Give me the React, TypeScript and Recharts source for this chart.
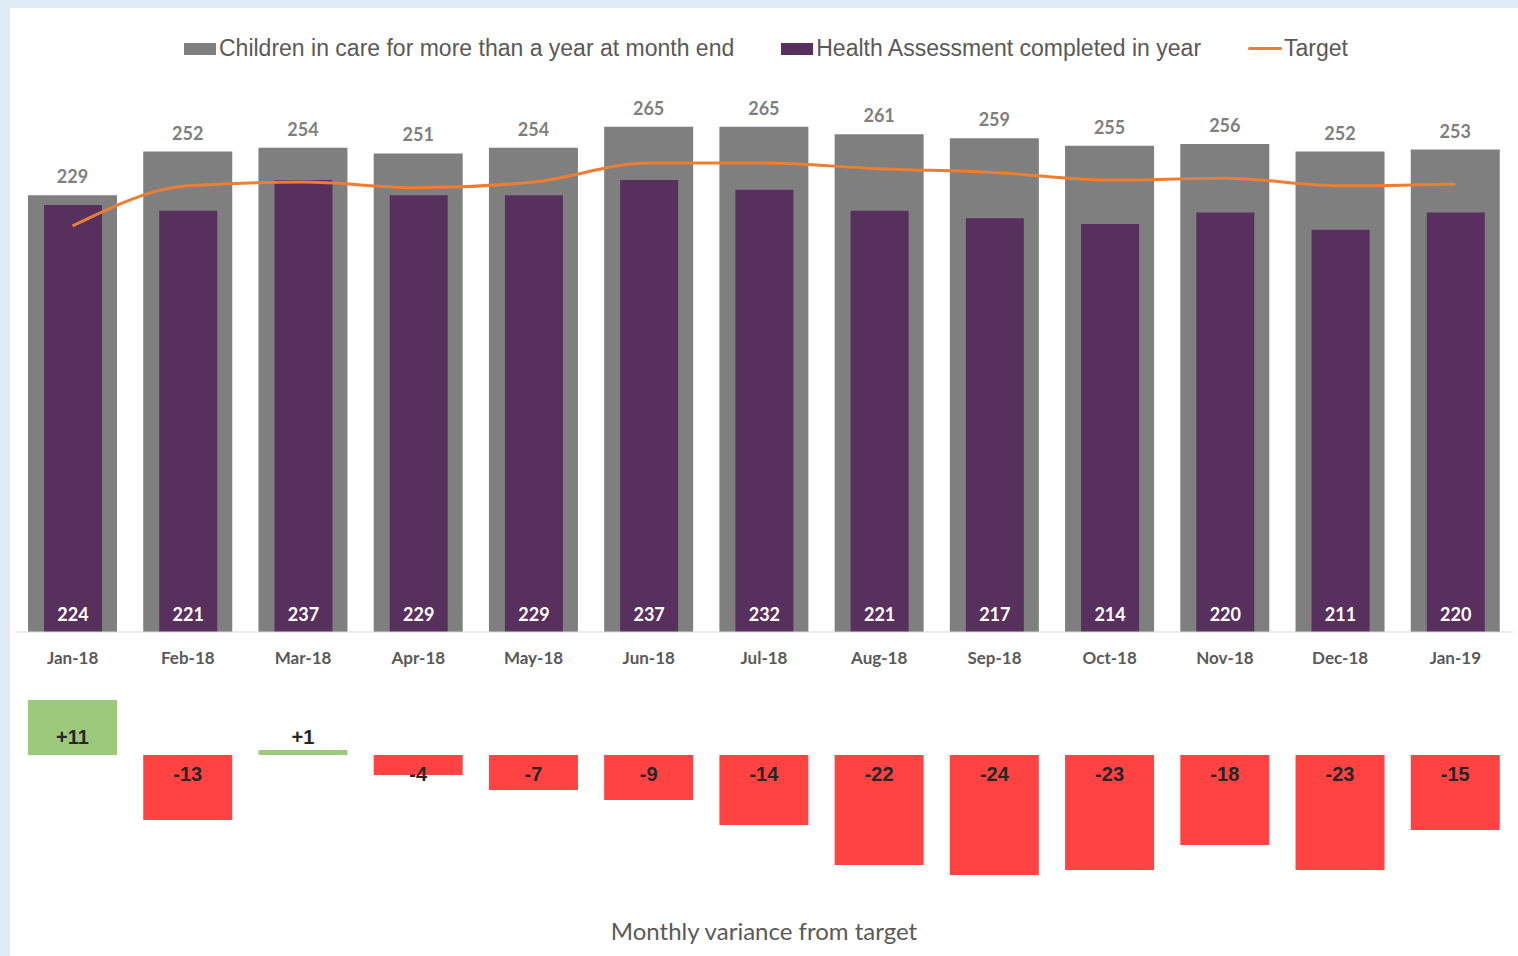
import { ComposedChart, BarChart, Bar, Line, XAxis, YAxis, Legend, Cell } from 'recharts';

const MONTHS = ['Jan-18', 'Feb-18', 'Mar-18', 'Apr-18', 'May-18', 'Jun-18', 'Jul-18', 'Aug-18', 'Sep-18', 'Oct-18', 'Nov-18', 'Dec-18', 'Jan-19'];
const IN_CARE = [229, 252, 254, 251, 254, 265, 265, 261, 259, 255, 256, 252, 253];
const HEALTH_DONE = [224, 221, 237, 229, 229, 237, 232, 221, 217, 214, 220, 211, 220];
const TARGET = [213, 234, 236, 233, 236, 246, 246, 243, 241, 237, 238, 234, 235];
const VARIANCE = [11, -13, 1, -4, -7, -9, -14, -22, -24, -23, -18, -23, -15];

const GREY = '#7f7f7f';
const PURPLE = '#58305e';
const ORANGE = '#ed7d31';
const GREEN = '#9dc97d';
const RED = '#ff4343';
const TEXT = '#595959';

const LABEL_FONT = 'Lato, "Open Sans", sans-serif';
const ARIAL = '"Liberation Sans", Arial, sans-serif';

const data = MONTHS.map((m, i) => ({
  month: m,
  inCare: IN_CARE[i],
  health: HEALTH_DONE[i],
  target: TARGET[i],
  variance: VARIANCE[i],
}));

const LegendBox = () => {
  const items = [
    { name: 'Children in care for more than a year at month end', color: GREY, kind: 'rect' },
    { name: 'Health Assessment completed in year', color: PURPLE, kind: 'rect' },
    { name: 'Target', color: ORANGE, kind: 'line' },
  ];
  return (
    <div style={{ display: 'flex', justifyContent: 'center', alignItems: 'center', paddingLeft: 14, fontFamily: ARIAL, fontSize: 23, color: TEXT }}>
      {items.map((it, i) => (
        <div key={it.name} style={{ display: 'flex', alignItems: 'center', marginLeft: i === 0 ? 0 : 47 }}>
          {it.kind === 'rect' ? (
            <span style={{ display: 'inline-block', width: 32, height: 12, background: it.color, marginRight: 3 }} />
          ) : (
            <span style={{ display: 'inline-block', width: 34, height: 3, background: it.color, borderRadius: 2, marginRight: 2 }} />
          )}
          <span>{it.name}</span>
        </div>
      ))}
    </div>
  );
};

const GreyLabel = (p: any) => (
  <text x={p.x + p.width / 2} y={p.y - 19} textAnchor="middle" dominantBaseline="central" fontFamily={LABEL_FONT} fontWeight={700} fontSize={18} fill={GREY}>
    {p.value}
  </text>
);

const PurpleLabel = (p: any) => (
  <text x={p.x + p.width / 2} y={p.y + p.height - 18} textAnchor="middle" dominantBaseline="central" fontFamily={LABEL_FONT} fontWeight={700} fontSize={18} fill="#ffffff">
    {p.value}
  </text>
);

const VarianceLabel = (p: any) => {
  const zero = p.y + p.height;
  const v = p.value as number;
  return (
    <text x={p.x + p.width / 2} y={v >= 0 ? zero - 18 : zero + 19} textAnchor="middle" dominantBaseline="central" fontFamily={ARIAL} fontWeight={700} fontSize={20} fill="#262626">
      {v > 0 ? `+${v}` : `${v}`}
    </text>
  );
};

export default function App() {
  return (
    <div style={{ position: 'absolute', left: 0, top: 0, width: 1518, height: 956, background: '#deebf7', overflow: 'hidden' }}>
      <div style={{ position: 'absolute', left: 10, top: 8, width: 1508, height: 948, background: '#ffffff' }} />

      <div style={{ position: 'absolute', left: 0, top: 0 }}>
        <ComposedChart width={1518} height={672} data={data} margin={{ top: 60, right: 5, left: 15, bottom: 0 }}>
          <XAxis
            xAxisId="a"
            dataKey="month"
            height={40}
            tickLine={false}
            tickMargin={14}
            axisLine={{ stroke: '#d9d9d9' }}
            tick={{ fontFamily: LABEL_FONT, fontWeight: 700, fontSize: 17, fill: TEXT }}
            interval={0}
          />
          <XAxis xAxisId="b" dataKey="month" hide />
          <YAxis domain={[0, 300]} hide />
          <Legend verticalAlign="middle" align="center" wrapperStyle={{ top: 35, left: 0, width: 1518 }} content={() => <LegendBox />} />
          <Bar xAxisId="a" dataKey="inCare" name="Children in care for more than a year at month end" fill={GREY} barSize={89} isAnimationActive={false} label={GreyLabel} />
          <Bar xAxisId="b" dataKey="health" name="Health Assessment completed in year" fill={PURPLE} barSize={58} isAnimationActive={false} label={PurpleLabel} />
          <Line xAxisId="a" type="monotone" dataKey="target" name="Target" stroke={ORANGE} strokeWidth={3} dot={false} isAnimationActive={false} />
        </ComposedChart>
      </div>

      <div style={{ position: 'absolute', left: 0, top: 660 }}>
        <BarChart width={1518} height={296} data={data} margin={{ top: 20, right: 5, left: 15, bottom: 0 }}>
          <XAxis
            dataKey="month"
            height={51}
            tick={false}
            tickLine={false}
            axisLine={false}
            label={{ value: 'Monthly variance from target', position: 'insideBottom', offset: 16, fontFamily: LABEL_FONT, fontSize: 24, fill: TEXT }}
          />
          <YAxis domain={[-30, 15]} hide />
          <Bar dataKey="variance" barSize={89} isAnimationActive={false} label={VarianceLabel}>
            {VARIANCE.map((v, i) => (
              <Cell key={i} fill={v >= 0 ? GREEN : RED} />
            ))}
          </Bar>
        </BarChart>
      </div>
    </div>
  );
}
